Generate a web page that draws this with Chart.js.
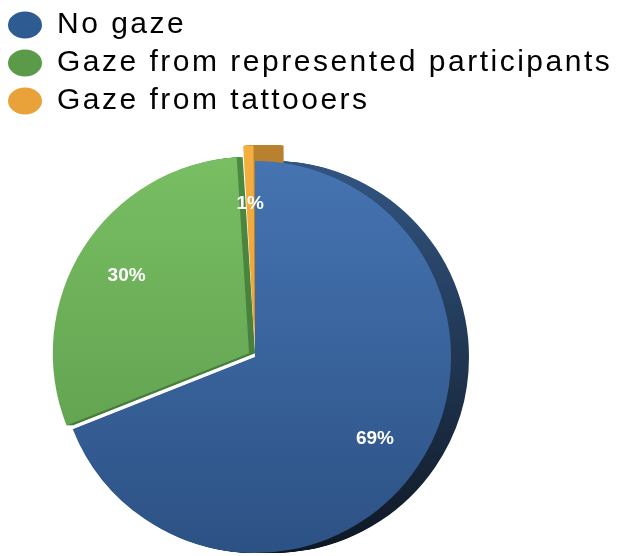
<!DOCTYPE html>
<html>
<head>
<meta charset="utf-8">
<script src="https://cdn.jsdelivr.net/npm/chart.js@4/dist/chart.umd.min.js"></script>
<style>
  html, body { margin: 0; padding: 0; background: #ffffff; }
  #wrap { width: 618px; height: 556px; }
</style>
</head>
<body>
<div id="wrap"><canvas id="c" width="618" height="556"></canvas></div>
<script>
const categories = ['No gaze', 'Gaze from represented participants', 'Gaze from tattooers'];
const values = [69, 30, 1];
const valueLabels = ['69%', '30%', '1%'];

const legendColors = ['#2F5B93', '#5B9A48', '#E9A23A'];
const topColors = ['#4675B3', '#79BF63', '#F4AF3F'];
const bottomColors = ['#2C5184', '#5A984A', '#E59B32'];
const sideColors = [['#335784', '#0E1723'], ['#4E8A40', '#40753A'], ['#B8822F', '#9A6722']];
const sideDepth = [18, 6, 30];

function sliceFill(ctx) {
  const chart = ctx.chart;
  const i = ctx.dataIndex;
  if (!chart.chartArea) return topColors[i];
  const g = chart.ctx.createLinearGradient(0, 150, 0, 556);
  g.addColorStop(0, topColors[i]);
  g.addColorStop(1, bottomColors[i]);
  return g;
}

// place the pie: shift the plotting area so the pie sits left-of-centre and low
const areaPlugin = {
  id: 'area',
  afterLayout(chart) {
    const a = chart.chartArea;
    a.left = 0;
    a.right = 510;
    a.bottom = 714 - a.top;
    a.width = a.right - a.left;
    a.height = a.bottom - a.top;
  }
};

// extruded side of the pie (3D look)
const sidePlugin = {
  id: 'side',
  beforeDatasetsDraw(chart) {
    const ctx = chart.ctx;
    const meta = chart.getDatasetMeta(0);
    meta.data.forEach((arc, i) => {
      if (!sideDepth[i]) return;
      const g = ctx.createLinearGradient(0, 150, 0, 556);
      g.addColorStop(0, sideColors[i][0]);
      g.addColorStop(1, sideColors[i][1]);
      const saved = arc.options.backgroundColor;
      arc.options.backgroundColor = g;
      for (let k = 1; k <= sideDepth[i]; k++) {
        ctx.save();
        ctx.translate(k, 0);
        arc.draw(ctx, chart.chartArea);
        ctx.restore();
      }
      arc.options.backgroundColor = saved;
    });
  }
};

const labelPlugin = {
  id: 'sliceLabels',
  afterDatasetsDraw(chart) {
    const ctx = chart.ctx;
    const meta = chart.getDatasetMeta(0);
    ctx.save();
    ctx.letterSpacing = '0px';
    ctx.fillStyle = '#ffffff';
    ctx.font = 'bold 19px "Liberation Sans", Arial, sans-serif';
    ctx.textAlign = 'center';
    ctx.textBaseline = 'middle';
    meta.data.forEach((arc, i) => {
      const p = arc.getProps(['x', 'y', 'startAngle', 'endAngle', 'outerRadius']);
      const mid = (p.startAngle + p.endAngle) / 2;
      const off = (arc.options.offset || 0) / 4;
      const r = p.outerRadius * 0.74 + off;
      ctx.fillText(valueLabels[i], p.x + Math.cos(mid) * r, p.y + Math.sin(mid) * r);
    });
    ctx.restore();
  }
};

const letterPlugin = {
  id: 'legendSpacing',
  beforeInit(chart) { chart.ctx.letterSpacing = '2.5px'; },
  beforeDraw(chart) { chart.ctx.letterSpacing = '2.5px'; },
  beforeDatasetsDraw(chart) { chart.ctx.letterSpacing = '0px'; }
};

new Chart(document.getElementById('c'), {
  type: 'pie',
  data: {
    labels: categories,
    datasets: [{
      data: values,
      backgroundColor: sliceFill,
      borderWidth: 0,
      offset: [0, 28, 32]
    }]
  },
  options: {
    responsive: false,
    animation: false,
    radius: 196,
    layout: { padding: { left: 0, right: 0, top: 2, bottom: 0 } },
    plugins: {
      tooltip: { enabled: false },
      legend: {
        position: 'top',
        align: 'start',
        labels: {
          usePointStyle: true,
          pointStyle: 'circle',
          pointStyleWidth: 34,
          boxHeight: 19,
          padding: 8,
          color: '#000000',
          font: { family: '"Liberation Sans", Arial, sans-serif', size: 30 },
          generateLabels(chart) {
            return categories.map((t, i) => ({
              text: t,
              fillStyle: legendColors[i],
              strokeStyle: legendColors[i],
              lineWidth: 0,
              hidden: false,
              index: i,
              pointStyle: 'circle'
            }));
          }
        }
      }
    }
  },
  plugins: [letterPlugin, areaPlugin, sidePlugin, labelPlugin]
});
</script>
</body>
</html>
